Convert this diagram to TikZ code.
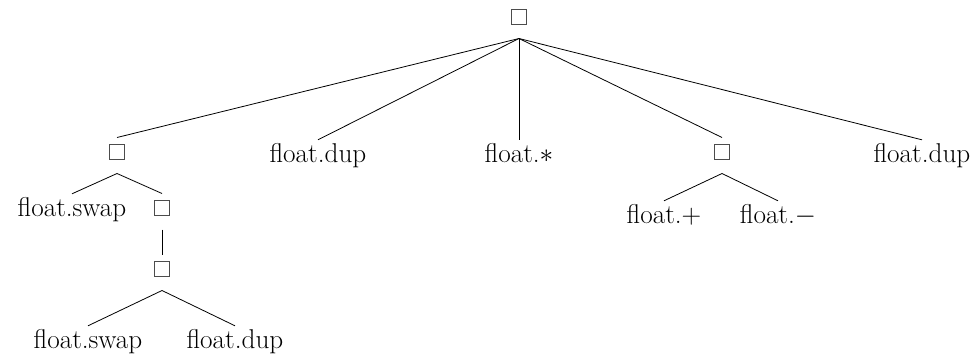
\RequirePackage{fix-cm}
\documentclass[tikz,border=0pt]{standalone}
\usepackage{fontspec}
\begin{document}
\begin{tikzpicture}[x=1pt,y=-1pt,
  leaf/.style={anchor=base,inner sep=0pt,text height=22pt,text depth=0pt,font=\fontsize{27.2}{30}\selectfont},
  hole/.style={draw=black!70,line width=1pt,minimum size=14.5pt,inner sep=0pt},
  edge/.style={line width=0.8pt}]
\useasboundingbox (0,0) rectangle (978,356);
% nodes
\node[hole] (r) at (519,17) {};
\node[hole] (b1) at (117,152) {};
\node[leaf] (d1) at (318,162) {float.dup};
\node[leaf] (m1) at (519,162) {float.$\ast$};
\node[hole] (b2) at (722,152) {};
\node[leaf] (d2) at (922,162) {float.dup};
\node[leaf] (s1) at (72,216) {float.swap};
\node[hole] (b3) at (162,208) {};
\node[hole] (b4) at (162,269) {};
\node[leaf] (s2) at (88,348) {float.swap};
\node[leaf] (d3) at (235,348) {float.dup};
\node[leaf] (p) at (664,223) {float.$+$};
\node[leaf] (n) at (778,223) {float.$-$};
% edges
\foreach \c in {b1,b2}
  \draw[edge] ([yshift=-13.75pt]r.south) -- ([yshift=6.75pt]\c.north);
\foreach \c in {d1,m1,d2}
  \draw[edge] ([yshift=-13.75pt]r.south) -- (\c.north);
\draw[edge] ([yshift=-13.75pt]b1.south) -- (s1.north);
\draw[edge] ([yshift=-13.75pt]b1.south) -- ([yshift=6.75pt]b3.north);
\draw[edge] ([yshift=-13.75pt]b3.south) -- ([yshift=6.75pt]b4.north);
\draw[edge] ([yshift=-13.75pt]b4.south) -- (s2.north);
\draw[edge] ([yshift=-13.75pt]b4.south) -- (d3.north);
\draw[edge] ([yshift=-13.75pt]b2.south) -- (p.north);
\draw[edge] ([yshift=-13.75pt]b2.south) -- (n.north);
\end{tikzpicture}
\end{document}
